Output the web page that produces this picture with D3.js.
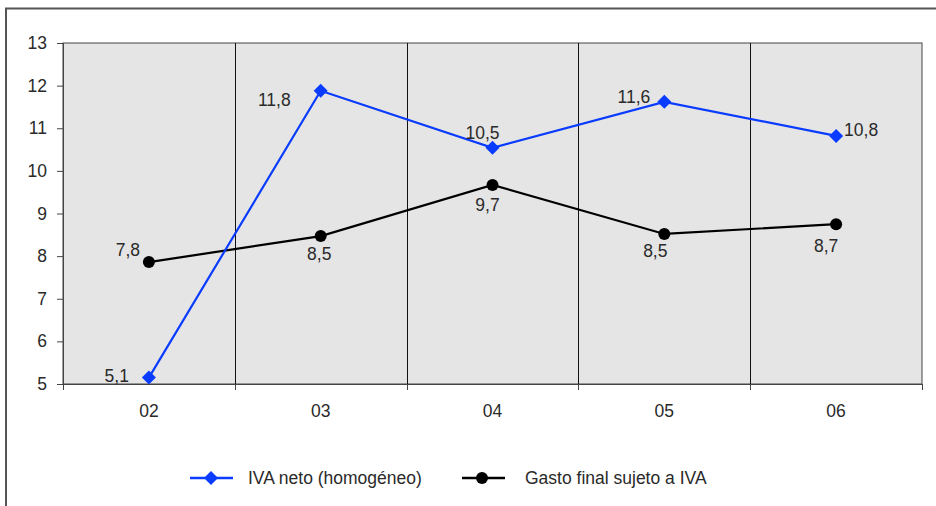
<!DOCTYPE html>
<html><head><meta charset="utf-8">
<script src="https://cdn.jsdelivr.net/npm/d3@7"></script>
<style>body{margin:0;background:#fff}svg{display:block}text{font-family:"Liberation Sans",Arial,sans-serif;fill:#2a2a2a}</style>
</head><body><svg id="c" width="936" height="506"></svg>
<script>
const categories = ["02","03","04","05","06"];
const ivaNeto = [5.15, 11.88, 10.54, 11.62, 10.82];
const ivaNetoLabels = ["5,1","11,8","10,5","11,6","10,8"];
const gasto = [7.86, 8.47, 9.67, 8.52, 8.75];
const gastoLabels = ["7,8","8,5","9,7","8,5","8,7"];
const yTicks = [5,6,7,8,9,10,11,12,13];
const seriesNames = ["IVA neto (homogéneo)", "Gasto final sujeto a IVA"];

const FS = "17.5px";
const svg = d3.select("#c");
const L = 63, R = 922, T = 43, B = 384;
const x = d3.scaleBand().domain(categories).range([L, R]);
const y = d3.scaleLinear().domain([5, 13]).range([B, T]);

svg.append("rect").attr("x",6).attr("y",8.5).attr("width",940).attr("height",510)
  .attr("fill","none").attr("stroke","#555").attr("stroke-width",2);

svg.append("rect").attr("x",L).attr("y",T).attr("width",R-L).attr("height",B-T)
  .attr("fill","#e5e5e5").attr("stroke","#444").attr("stroke-width",1);

svg.append("g").selectAll("line").data(categories.slice(1)).join("line")
  .attr("x1",d=>Math.round(x(d))+0.5).attr("x2",d=>Math.round(x(d))+0.5)
  .attr("y1",T).attr("y2",B).attr("stroke","#111").attr("stroke-width",1);

const ya = svg.append("g").attr("transform",`translate(${L},0)`)
  .call(d3.axisLeft(y).tickValues(yTicks).tickSize(6).tickPadding(10).tickFormat(d3.format("d")));
ya.select(".domain").attr("stroke","#444");
ya.selectAll(".tick line").attr("stroke","#444");
ya.selectAll("text").style("font-size",FS).attr("fill","#2a2a2a");

const bounds = categories.map(d=>x(d)).concat([R]);
svg.append("line").attr("x1",L).attr("x2",R).attr("y1",B+0.5).attr("y2",B+0.5).attr("stroke","#444");
svg.append("g").selectAll("line").data(bounds).join("line")
  .attr("x1",d=>Math.round(d)+0.5).attr("x2",d=>Math.round(d)+0.5)
  .attr("y1",B).attr("y2",B+6).attr("stroke","#444");
svg.append("g").selectAll("text").data(categories).join("text")
  .attr("x",d=>x(d)+x.bandwidth()/2).attr("y",B+33).attr("text-anchor","middle")
  .style("font-size",FS).text(d=>d);

const cx = d=>x(d)+x.bandwidth()/2;
const line = d3.line().x((d,i)=>cx(categories[i])).y(d=>y(d));
const blue = "#0a3cff";

svg.append("path").datum(gasto).attr("d",line).attr("fill","none").attr("stroke","#000").attr("stroke-width",2.2);
svg.append("g").selectAll("circle").data(gasto).join("circle")
  .attr("cx",(d,i)=>cx(categories[i])).attr("cy",d=>y(d)).attr("r",6).attr("fill","#000");

svg.append("path").datum(ivaNeto).attr("d",line).attr("fill","none").attr("stroke",blue).attr("stroke-width",2.2);
const diamond = s => `M0,${-s}L${s},0L0,${s}L${-s},0Z`;
svg.append("g").selectAll("path").data(ivaNeto).join("path")
  .attr("transform",(d,i)=>`translate(${cx(categories[i])},${y(d)})`)
  .attr("d",diamond(7)).attr("fill",blue);

const blueLab = [{dx:-20,dy:4,a:"end"},{dx:-30,dy:15,a:"end"},{dx:-10,dy:-9,a:"middle"},{dx:-14,dy:1,a:"end"},{dx:8,dy:0,a:"start"}];
const blackLab = [{dx:-21,dy:-6,a:"middle"},{dx:-1.5,dy:24,a:"middle"},{dx:-5,dy:26,a:"middle"},{dx:-9,dy:23,a:"middle"},{dx:-10,dy:28,a:"middle"}];
svg.append("g").selectAll("text").data(ivaNeto).join("text")
  .attr("x",(d,i)=>cx(categories[i])+blueLab[i].dx).attr("y",(d,i)=>y(d)+blueLab[i].dy)
  .attr("text-anchor",(d,i)=>blueLab[i].a).style("font-size",FS).text((d,i)=>ivaNetoLabels[i]);
svg.append("g").selectAll("text").data(gasto).join("text")
  .attr("x",(d,i)=>cx(categories[i])+blackLab[i].dx).attr("y",(d,i)=>y(d)+blackLab[i].dy)
  .attr("text-anchor",(d,i)=>blackLab[i].a).style("font-size",FS).text((d,i)=>gastoLabels[i]);

const lg = svg.append("g");
lg.append("line").attr("x1",190).attr("x2",233).attr("y1",478).attr("y2",478).attr("stroke",blue).attr("stroke-width",2.6);
lg.append("path").attr("transform","translate(211,478)").attr("d",diamond(7)).attr("fill",blue);
lg.append("text").attr("x",248).attr("y",484).style("font-size",FS).text(seriesNames[0]);
lg.append("line").attr("x1",462).attr("x2",505).attr("y1",478).attr("y2",478).attr("stroke","#000").attr("stroke-width",2.6);
lg.append("circle").attr("cx",482).attr("cy",478).attr("r",6).attr("fill","#000");
lg.append("text").attr("x",525).attr("y",484).style("font-size",FS).text(seriesNames[1]);
</script></body></html>
